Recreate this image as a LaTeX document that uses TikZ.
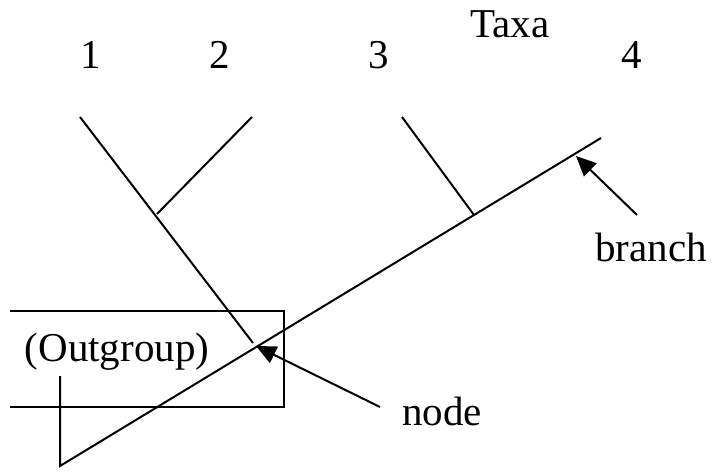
\documentclass[tikz,border=0pt]{standalone}
\usepackage{fontspec}
\setmainfont{Liberation Serif}
\usetikzlibrary{arrows.meta}
\begin{document}
\begin{tikzpicture}[x=1pt,y=-1pt,
  edge/.style={line width=2pt},
  lbl/.style={font=\fontsize{41}{47}\selectfont, inner sep=0pt, anchor=center},
  pointer/.style={line width=2pt, -{Triangle[length=20pt,width=18pt]}}]
\useasboundingbox (0,0) rectangle (712,473);
% coordinates
\coordinate (root) at (60,466);
\coordinate (og) at (60,376);
\coordinate (t4) at (601,138);
\coordinate (t1) at (80,117);
\coordinate (t2) at (252,117);
\coordinate (t3) at (402,117);
\coordinate (n12) at (157,214);
\coordinate (n3) at (474,215);
\coordinate (n1end) at (253,343);
% labels
\node[lbl] (l1) at (91,55) {1};
\node[lbl] (l2) at (220,55) {2};
\node[lbl] (l3) at (379,55) {3};
\node[lbl] (l4) at (632,55) {4};
\node[lbl] (taxa) at (510,24) {Taxa};
\node[lbl] (outg) at (117,352) {(Outgroup)};
\node[lbl] (branch) at (651,247) {branch};
\node[lbl] (nodel) at (442,411) {node};
% box (open on the left)
\draw[edge] (10,311) -- (284,311) -- (284,407) -- (10,407);
% tree
\draw[edge] (og) -- (root) -- (t4);
\draw[edge] (t1) -- (n1end);
\draw[edge] (t2) -- (n12);
\draw[edge] (t3) -- (n3);
% pointers
\coordinate (bt) at (637,215);
\coordinate (bh) at (576,156);
\coordinate (nt) at (380,407);
\coordinate (nh) at (256,346);
\draw[pointer] (bt) -- (bh);
\draw[pointer] (nt) -- (nh);
\end{tikzpicture}
\end{document}
